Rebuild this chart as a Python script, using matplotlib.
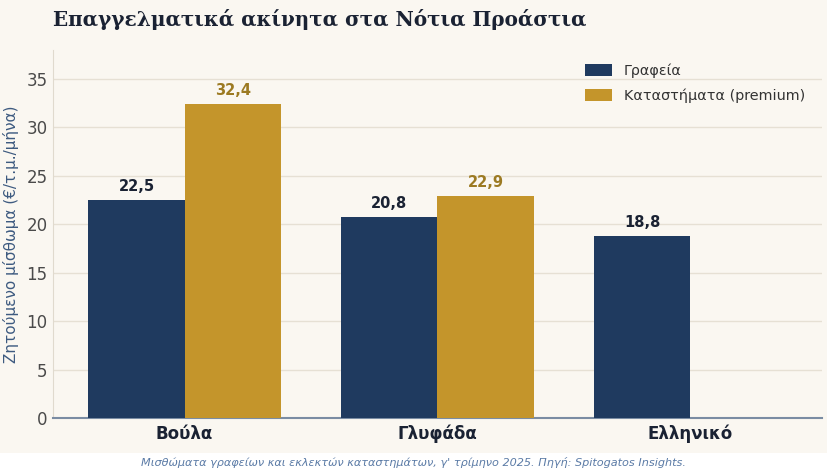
import matplotlib
matplotlib.use("Agg")
import matplotlib.pyplot as plt
import numpy as np
from matplotlib.patches import Rectangle

categories = ["Βούλα", "Γλυφάδα", "Ελληνικό"]
offices = [22.5, 20.8, 18.8]
shops = [32.4, 22.9, None]
series_names = ["Γραφεία", "Καταστήματα (premium)"]
yticks = [0, 5, 10, 15, 20, 25, 30, 35]

navy = "#1f3a5f"
gold = "#c4952b"
bg = "#faf7f1"

fig = plt.figure(figsize=(8.28, 4.72), dpi=100)
fig.patch.set_facecolor(bg)
fig.patches.append(Rectangle((0, 0), 1, 19 / 472, transform=fig.transFigure,
                             facecolor="white", edgecolor="none", zorder=0))
ax = fig.add_axes([53 / 828, 1 - 418 / 472, (822 - 53) / 828, (418 - 50) / 472])
ax.set_facecolor(bg)

x = np.arange(len(categories))
w = 0.38
ax.bar(x - w / 2, offices, width=w, color=navy, label=series_names[0], zorder=3)
sx = [xi + w / 2 for xi, v in zip(x, shops) if v is not None]
sv = [v for v in shops if v is not None]
ax.bar(sx, sv, width=w, color=gold, label=series_names[1], zorder=3)

def fmt(v):
    return f"{v:.1f}".replace(".", ",")

for xi, v in zip(x, offices):
    ax.text(xi - w / 2, v + 0.6, fmt(v), ha="center", va="bottom",
            fontsize=10.5, fontweight="bold", color="#1a2233", zorder=4)
for xi, v in zip(sx, sv):
    ax.text(xi, v + 0.6, fmt(v), ha="center", va="bottom",
            fontsize=10.5, fontweight="bold", color="#9c7a22", zorder=4)

ax.set_xlim(-0.52, 2.52)
ax.set_ylim(0, 38)
ax.set_yticks(yticks)
ax.set_xticks(x)
ax.set_xticklabels(categories, fontsize=12, fontweight="bold", color="#1a2233")
ax.tick_params(axis="y", labelsize=12, colors="#4a4a4a", length=0, pad=4)
ax.tick_params(axis="x", length=0, pad=5)
ax.grid(axis="y", color="#e6e0d4", linewidth=1, zorder=0)
ax.set_axisbelow(True)
for s in ["top", "right"]:
    ax.spines[s].set_visible(False)
ax.spines["left"].set_color("#e0dace")
ax.spines["bottom"].set_color("#7a8ca3")
ax.spines["bottom"].set_linewidth(1.5)
ax.set_ylabel("Ζητούμενο μίσθωμα (€/τ.μ./μήνα)", fontsize=11, color="#3d5a80", labelpad=5)

leg = ax.legend(loc="upper right", frameon=False, fontsize=10.4, handlelength=1.9,
                handleheight=0.9, labelspacing=0.75, bbox_to_anchor=(0.995, 1.0))
for t in leg.get_texts():
    t.set_color("#333333")

fig.text(53 / 828, 1 - 20 / 472, "Επαγγελματικά ακίνητα στα Νότια Προάστια",
         fontsize=14.4, fontweight="bold", family="DejaVu Serif", color="#1a2233",
         ha="left", va="center")
fig.text(0.5, 1 - 463 / 472,
         "Μισθώματα γραφείων και εκλεκτών καταστημάτων, γ' τρίμηνο 2025. Πηγή: Spitogatos Insights.",
         fontsize=8.1, style="italic", color="#5b7ba6", ha="center", va="center")

fig.savefig("out.png", dpi=100, facecolor=fig.get_facecolor())
